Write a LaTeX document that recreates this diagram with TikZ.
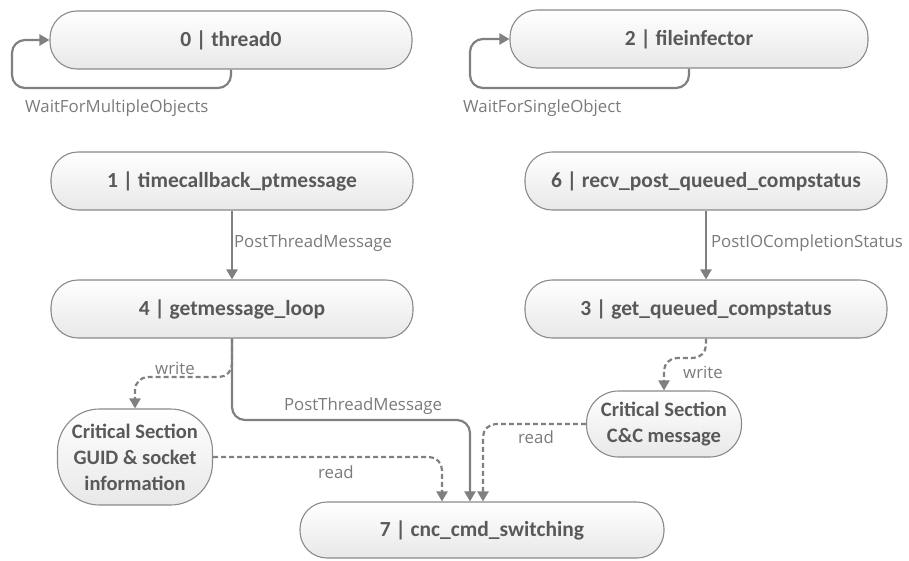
\documentclass[tikz,border=0pt]{standalone}
\usepackage{fontspec}
\setmainfont{Carlito}
\newfontfamily\labelfont{Open Sans}
\usetikzlibrary{arrows.meta}
\definecolor{linegray}{HTML}{808080}
\definecolor{bordergray}{HTML}{8A8A8A}
\definecolor{textgray}{HTML}{595959}
\definecolor{labelgray}{HTML}{7A7A7A}
\begin{document}
\begin{tikzpicture}[x=1pt,y=-1pt,
  proc/.style={draw=bordergray, line width=1.1pt, rounded corners=27pt,
    top color=white, bottom color=black!9, minimum width=362pt, minimum height=58pt,
    inner sep=0pt, font=\bfseries\fontsize{21.5}{24}\selectfont, text=textgray},
  crit/.style={draw=bordergray, line width=1.1pt,
    top color=white, bottom color=black!9, minimum width=155pt,
    inner sep=0pt, align=center, font=\bfseries\fontsize{20.5}{26}\selectfont, text=textgray},
  flow/.style={draw=linegray, line width=2.2pt, rounded corners=13pt,
    -{Triangle[width=11pt,length=10pt]}},
  dataflow/.style={flow, dash pattern=on 5pt off 3pt},
  lbl/.style={font=\labelfont\fontsize{16.8}{19}\selectfont, text=labelgray, inner sep=1pt}]
\useasboundingbox (0,0) rectangle (909,560);

% thread nodes
\node[proc] (n0) at (231,40) {0 | thread0};
\node[proc, minimum width=358pt] (n2) at (689,39) {2 | fileinfector};
\node[proc] (n1) at (232,181) {1 | timecallback\_ptmessage};
\node[proc] (n4) at (232,309) {4 | getmessage\_loop};
\node[proc] (n6) at (706,181) {6 | recv\_post\_queued\_compstatus};
\node[proc] (n3) at (706,309) {3 | get\_queued\_compstatus};
\node[proc, minimum width=364pt, minimum height=56pt] (n7) at (482,530) {7 | cnc\_cmd\_switching};

% shared data
\node[crit, minimum height=96pt, rounded corners=42pt] (csg) at (135,457)
  {Critical Section\\GUID \& socket\\information};
\node[crit, minimum height=66pt, rounded corners=32pt] (csc) at (664,424)
  {Critical Section\\C\&C message};

% wait loops
\coordinate (l0) at (12,88);
\coordinate (l2) at (470,88);
\draw[flow] (n0.south) |- (l0) |- (n0.west);
\draw[flow] (n2.south) |- (l2) |- (n2.west);
\node[lbl, anchor=west] (w0) at (24,108) {WaitForMultipleObjects};
\node[lbl, anchor=west] (w2) at (462,108) {WaitForSingleObject};

% messages between threads
\draw[flow] (n1) -- node[lbl, anchor=west, pos=0.47] {PostThreadMessage} (n4);
\draw[flow] (n6) -- node[lbl, anchor=west, pos=0.47, xshift=3pt] {PostIOCompletionStatus} (n3);

\coordinate (j4) at (470,420);
\draw[flow] (n4.south) |- (j4) -- (n7.north -| j4);
\node[lbl] (ptm) at (363,406) {PostThreadMessage};

% reads and writes of the critical sections
\coordinate (wg) at (232,377);
\draw[dataflow] (n4.south) -- (wg) -| (csg.north);
\node[lbl] (wgl) at (175,368) {write};

\coordinate (rg) at (442,457);
\draw[dataflow] (csg.east) -- (rg) -- (n7.north -| rg);
\node[lbl] (rgl) at (336,472) {read};

\coordinate (wc) at (706,358);
\draw[dataflow] (n3.south) -- (wc) -| (csc.north);
\node[lbl] (wcl) at (703,372) {write};

\coordinate (rc) at (483,424);
\draw[dataflow] (csc.west) -- (rc) -- (n7.north -| rc);
\node[lbl] (rcl) at (536,437) {read};
\end{tikzpicture}
\end{document}
